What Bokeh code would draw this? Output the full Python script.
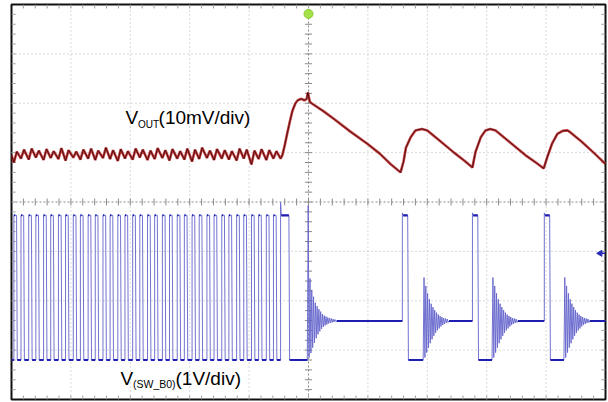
import math
import numpy as np
from bokeh.plotting import figure
from bokeh.models import Label
from bokeh.embed import file_html
from bokeh.resources import INLINE

# ---------------- data (oscilloscope screen units: divisions) ----------------
# time axis: -5 .. 5 div, voltage axis: -4 .. 4 div

# CH2  V(SW_B0)  1 V/div : rising edges of the switching pulses before the load step
sw_rise = [-4.96, -4.84, -4.71, -4.59, -4.46, -4.34, -4.21, -4.09, -3.96, -3.84,
           -3.71, -3.59, -3.46, -3.34, -3.21, -3.09, -2.96, -2.84, -2.71, -2.59,
           -2.46, -2.34, -2.21, -2.09, -1.96, -1.84, -1.71, -1.59, -1.46, -1.34,
           -1.21, -1.09, -0.96, -0.84, -0.71, -0.59]
sw_on = 0.045            # on-time of a pulse (div)
sw_high = -0.27          # switch-node high level
sw_low = -3.20           # switch-node low level
sw_idle = -2.41          # level while the switch is idle (≈ Vout)
long_pulse = [-0.47, -0.33]          # last (extended) pulse before the step
post_rise = [1.58, 2.76, 3.97]       # pulses after the load step
post_fall = [1.67, 2.85, 4.06]
ring_start = [-0.02, 1.93, 3.09, 4.30]
ring_dt = 0.015                      # half period of the ringing
ring_step = [-3.20, -0.07, -3.15, -1.55, -3.06, -1.78, -2.95, -1.92, -2.85, -2.04,
             -2.76, -2.11, -2.68, -2.17, -2.62, -2.22, -2.57, -2.27, -2.53, -2.30,
             -2.50, -2.32, -2.48, -2.34, -2.46, -2.35, -2.45, -2.36, -2.44, -2.37,
             -2.43, -2.38, -2.42, -2.41]
ring_cycle = [-3.20, -1.53, -3.15, -1.70, -3.05, -1.85, -2.95, -1.97, -2.86, -2.06,
              -2.78, -2.13, -2.71, -2.19, -2.65, -2.24, -2.60, -2.28, -2.56, -2.31,
              -2.52, -2.33, -2.49, -2.35, -2.47, -2.36, -2.45, -2.37, -2.44, -2.41]

# CH1  V_OUT  10 mV/div : ripple trough / peak per switching cycle before the step
vout_trough = [0.80, 0.88, 0.86, 0.90, 0.85, 0.89, 0.87, 0.84, 0.90, 0.86,
               0.88, 0.85, 0.89, 0.87, 0.83, 0.88, 0.86, 0.90, 0.85, 0.87,
               0.89, 0.84, 0.88, 0.86, 0.82, 0.87, 0.89, 0.85, 0.88, 0.86,
               0.84, 0.88, 0.76, 0.87, 0.85, 0.88]
vout_peak = [1.02, 1.06, 1.08, 1.04, 1.07, 1.03, 1.09, 1.05, 1.02, 1.06,
             1.08, 1.04, 1.10, 1.05, 1.07, 1.03, 1.08, 1.06, 1.04, 1.09,
             1.05, 1.07, 1.03, 1.08, 1.06, 1.10, 1.04, 1.07, 1.05, 1.03,
             1.08, 1.06, 1.04, 1.07, 1.05, 1.03]
vout_t = [-0.47, -0.44, -0.40, -0.36, -0.31, -0.27, -0.22, -0.18, -0.12, -0.07,
          -0.03, -0.01, 0.02, 0.05, 0.25, 0.43, 0.70, 0.99, 1.20, 1.38,
          1.55, 1.60, 1.64, 1.72, 1.80, 1.91, 2.00, 2.20, 2.45, 2.62,
          2.76, 2.81, 2.90, 2.98, 3.06, 3.15, 3.40, 3.65, 3.85, 3.96,
          4.02, 4.10, 4.19, 4.28, 4.36, 4.41, 4.60, 4.80, 5.00]
vout_v = [0.88, 0.95, 1.15, 1.38, 1.65, 1.85, 2.00, 2.06, 2.09, 2.06,
          2.09, 2.22, 2.04, 2.00, 1.84, 1.68, 1.43, 1.18, 0.98, 0.77,
          0.60, 0.82, 1.10, 1.31, 1.45, 1.48, 1.45, 1.25, 1.00, 0.84,
          0.70, 1.01, 1.31, 1.45, 1.48, 1.45, 1.20, 0.95, 0.78, 0.68,
          0.91, 1.18, 1.38, 1.44, 1.45, 1.41, 1.22, 1.00, 0.77]

trigger_t = [0.0]
trigger_mark_v = [3.81]
ch2_mark_v = [-1.04]

# ---------------- build traces ----------------
vx, vy = [-5.0], [0.95]
for e, lo, hi in zip(sw_rise, vout_trough, vout_peak):
    vx += [e, e + 0.05]
    vy += [lo, hi]
vx += vout_t
vy += vout_v

bx, by = [-5.0], [sw_low]
flat_x, flat_y = [], []
top_x, top_y = [], []
prev = -5.0
for r in sw_rise:
    flat_x.append([prev, r]); flat_y.append([sw_low, sw_low])
    bx += [r, r, r + sw_on, r + sw_on + 0.012]
    by += [sw_low, sw_high, sw_high, sw_low]
    top_x.append([r, r + 0.022]); top_y.append([sw_high, sw_high])
    prev = r + sw_on + 0.012
r, f = long_pulse
flat_x.append([prev, r]); flat_y.append([sw_low, sw_low])
bx += [r, r, r + 0.012, f, f + 0.012]
by += [sw_low, -0.01, sw_high, sw_high, sw_low]
flat_x.append([r + 0.012, f]); flat_y.append([sw_high, sw_high])
flat_x.append([f + 0.012, ring_start[0]]); flat_y.append([sw_low, sw_low])

bursts = [ring_step, ring_cycle, ring_cycle, ring_cycle]
ends = post_rise + [5.0]
for i, (x0, vals) in enumerate(zip(ring_start, bursts)):
    xs = [x0 + k * ring_dt for k in range(len(vals))]
    bx += xs
    by += vals
    end = ends[i]
    flat_x.append([xs[-1], end]); flat_y.append([sw_idle, sw_idle])
    bx.append(end); by.append(sw_idle)
    if i < len(post_rise):
        pr, pf = post_rise[i], post_fall[i]
        bx += [pr, pr + 0.012, pf, pf + 0.012, ring_start[i + 1]]
        by += [sw_high + 0.05, sw_high, sw_high, sw_low, sw_low]
        flat_x.append([pr + 0.012, pf]); flat_y.append([sw_high, sw_high])
        flat_x.append([pf + 0.012, ring_start[i + 1]]); flat_y.append([sw_low, sw_low])

# ---------------- figure ----------------
p = figure(width=607, height=401, x_range=(-5, 5), y_range=(-4, 4),
           x_axis_type=None, y_axis_type=None, toolbar_location=None,
           output_backend="svg", min_border_left=11, min_border_top=4,
           min_border_right=2, min_border_bottom=2)
p.background_fill_color = "white"
p.border_fill_color = "white"
p.outline_line_color = "#111111"
p.outline_line_width = 2
p.xgrid.visible = False
p.ygrid.visible = False

# dotted graticule
gx = [[x, x] for x in range(-4, 5) if x != 0]
gy = [[-4, 4]] * len(gx)
p.multi_line(gx, gy, line_color="#b5b5b5", line_width=1, line_dash="1 3")
hy = [[y, y] for y in range(-3, 4) if y != 0]
hx = [[-5, 5]] * len(hy)
p.multi_line(hx, hy, line_color="#b5b5b5", line_width=1, line_dash="1 3")

# centre cross with minor ticks
p.segment(x0=[0, -5], y0=[-4, 0], x1=[0, 5], y1=[4, 0],
          line_color="#8a8a8a", line_width=1, line_dash="2 2")
mx = np.round(np.arange(-4.8, 4.81, 0.2), 3)
my = np.round(np.arange(-3.8, 3.81, 0.2), 3)
p.segment(x0=mx, y0=-0.07, x1=mx, y1=0.07, line_color="#8a8a8a", line_width=1)
p.segment(x0=-0.06, y0=my, x1=0.06, y1=my, line_color="#8a8a8a", line_width=1)
# ticks along the frame
p.segment(x0=mx, y0=-4, x1=mx, y1=-3.92, line_color="#a0a0a0", line_width=1)
p.segment(x0=mx, y0=4, x1=mx, y1=3.92, line_color="#a0a0a0", line_width=1)
p.segment(x0=-5, y0=my, x1=-4.93, y1=my, line_color="#a0a0a0", line_width=1)
p.segment(x0=5, y0=my, x1=4.93, y1=my, line_color="#a0a0a0", line_width=1)

# CH1 trace
p.line(vx, vy, line_color="#b82022", line_width=2.6, line_alpha=0.85)
p.line(vx, vy, line_color="#4a0808", line_width=0.9)

# CH2 trace
p.line(bx, by, line_color="#6464cc", line_width=1.0, line_alpha=0.9)
p.multi_line(flat_x, flat_y, line_color="#1e1eb2", line_width=2.2)
p.multi_line(top_x, top_y, line_color="#1e1eb2", line_width=2.0)

# markers
p.scatter(trigger_t, trigger_mark_v, size=9, color="#a4e048", line_color="#8acb30")
p.scatter([4.91], ch2_mark_v, marker="triangle", angle=math.pi / 2, size=6,
          color="#2a2ab8")
p.segment(x0=[4.91], y0=ch2_mark_v, x1=[5.0], y1=ch2_mark_v,
          line_color="#2a2ab8", line_width=1.5)

# labels
font = "Liberation Sans"
p.add_layout(Label(x=-3.08, y=1.49, text="V", text_font=font,
                   text_font_size="19px", text_color="black"))
p.add_layout(Label(x=-3.08, y=1.45, x_offset=12.5, text="OUT", text_font=font,
                   text_font_size="10px", text_color="black"))
p.add_layout(Label(x=-3.08, y=1.49, x_offset=33.0, text="(10mV/div)", text_font=font,
                   text_font_size="19px", text_color="black"))

p.add_layout(Label(x=-3.165, y=-3.78, text="V", text_font=font,
                   text_font_size="19px", text_color="black"))
p.add_layout(Label(x=-3.165, y=-3.81, x_offset=12.5, text="(SW_B0)", text_font=font,
                   text_font_size="10.5px", text_color="black"))
p.add_layout(Label(x=-3.165, y=-3.78, x_offset=55.0, text="(1V/div)", text_font=font,
                   text_font_size="19px", text_color="black"))

open("out.html", "w").write(file_html(p, INLINE))
